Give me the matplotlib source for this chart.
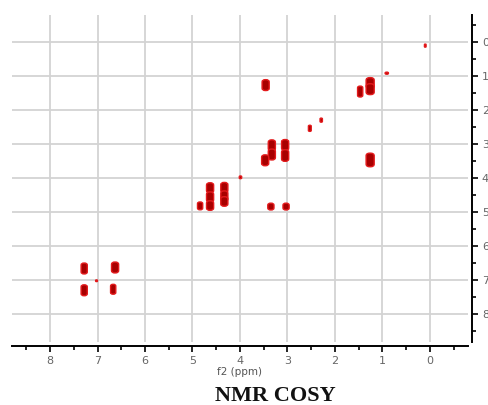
import matplotlib
matplotlib.use("Agg")
import matplotlib.pyplot as plt
from matplotlib.patches import FancyBboxPatch
from matplotlib.ticker import MultipleLocator

# Cross peaks: f2 (x, ppm), f1 (y, ppm), extent along f2 and f1 (ppm)
peak_f2 = [3.46, 3.33, 3.33, 3.05, 3.05, 3.47, 3.99, 4.63, 4.63, 4.63,
           4.33, 4.33, 4.33, 4.84, 3.35, 3.03, 2.53, 2.29, 1.26, 1.26,
           1.47, 0.91, 0.10, 1.26, 7.28, 6.63, 7.28, 6.67, 7.02]
peak_f1 = [1.26, 3.03, 3.30, 3.02, 3.33, 3.47, 3.97, 4.28, 4.55, 4.80,
           4.27, 4.52, 4.68, 4.81, 4.83, 4.83, 2.53, 2.29, 1.20, 1.38,
           1.45, 0.91, 0.10, 3.46, 6.65, 6.62, 7.29, 7.26, 7.01]
peak_w = [0.15, 0.15, 0.15, 0.15, 0.15, 0.15, 0.05, 0.15, 0.15, 0.15,
          0.15, 0.15, 0.15, 0.11, 0.13, 0.13, 0.06, 0.05, 0.17, 0.17,
          0.11, 0.07, 0.035, 0.17, 0.13, 0.15, 0.13, 0.11, 0.04]
peak_h = [0.32, 0.32, 0.32, 0.32, 0.34, 0.32, 0.08, 0.30, 0.30, 0.28,
          0.30, 0.30, 0.28, 0.23, 0.20, 0.20, 0.18, 0.12, 0.32, 0.32,
          0.32, 0.06, 0.09, 0.40, 0.32, 0.32, 0.32, 0.29, 0.05]

ticks = [0, 1, 2, 3, 4, 5, 6, 7, 8]
x_label = "f2 (ppm)"
title = "NMR COSY"

fig = plt.figure(figsize=(4.89, 4.05), dpi=100)
ax = fig.add_axes([12/489, 63/405, 456/489, 327/405])
ax.set_xlim(8.8, -0.8)
ax.set_ylim(8.81, -0.80)

for x, y, w, h in zip(peak_f2, peak_f1, peak_w, peak_h):
    r = min(w, h) * 0.45
    ax.add_patch(FancyBboxPatch((x - w / 2 + r, y - h / 2 + r), w - 2 * r, h - 2 * r,
                                boxstyle=f"round,pad={r}",
                                facecolor="#a80000", edgecolor="#e31a1c",
                                lw=1.0, zorder=3))

ax.set_xticks(ticks)
ax.set_yticks(ticks)
ax.xaxis.set_minor_locator(MultipleLocator(0.5))
ax.yaxis.set_minor_locator(MultipleLocator(0.5))
ax.grid(True, which="major", color="#d3d3d3", lw=1.3, zorder=0)
ax.set_axisbelow(True)

for s in ["left", "top"]:
    ax.spines[s].set_visible(False)
for s in ["bottom", "right"]:
    ax.spines[s].set_linewidth(1.4)
    ax.spines[s].set_position(("outward", 3))
ax.yaxis.tick_right()
ax.tick_params(axis="both", which="major", length=4, width=1.2, direction="out",
               labelsize=8, labelcolor="#666666", pad=3)
ax.tick_params(axis="both", which="minor", length=3, width=1.2, direction="out")
ax.set_xlabel(x_label, fontsize=7.5, color="#555555", labelpad=1)

fig.text(275/489, 1 - 396/405, title, ha="center", va="center",
         fontsize=16, fontweight="bold", family="Liberation Serif", color="#111111")

fig.savefig("out.png", dpi=100)
